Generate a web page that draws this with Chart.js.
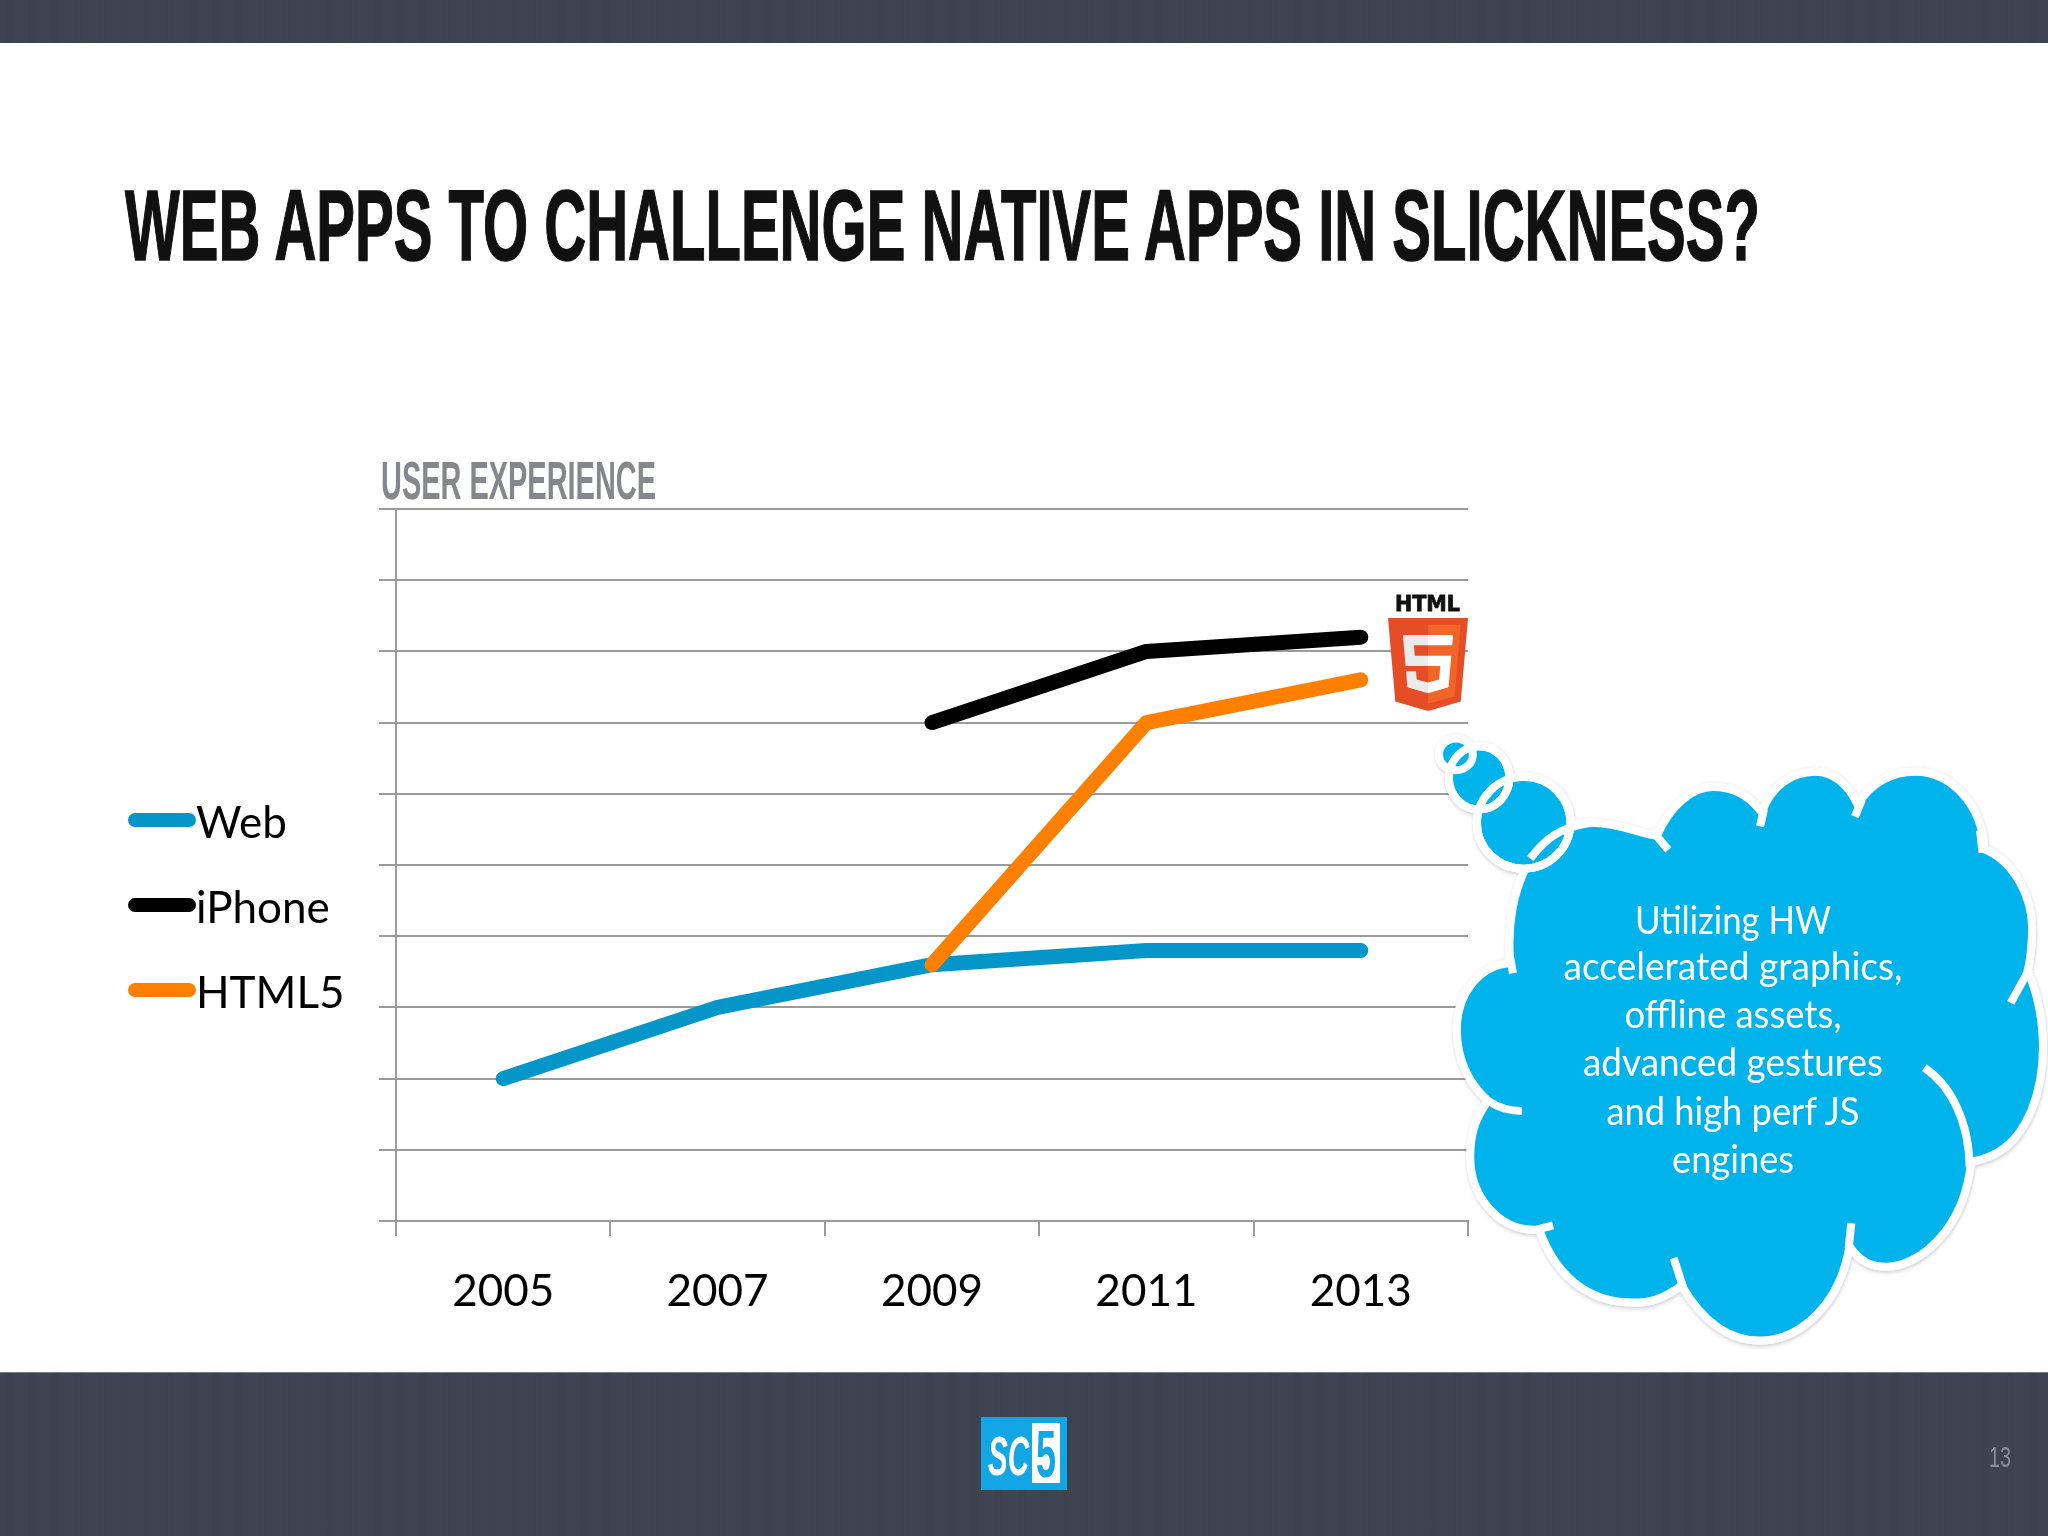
<!DOCTYPE html>
<html><head><meta charset="utf-8">
<script src="https://cdn.jsdelivr.net/npm/chart.js@4/dist/chart.umd.js"></script>
<style>
html,body{margin:0;padding:0;background:#fff;width:2048px;height:1536px;overflow:hidden}
#wrap{position:relative;width:2048px;height:1536px}
.bar{position:absolute;left:0;width:2048px;background-color:#3d4351;
background-image:repeating-linear-gradient(90deg,rgba(255,255,255,.007) 0 5px,rgba(0,0,0,.012) 5px 13px,rgba(255,255,255,.005) 13px 23px)}
canvas{position:absolute;left:0;top:0}
svg{position:absolute;left:0;top:0}
</style></head><body>
<div id="wrap">
<div class="bar" style="top:0;height:43px"></div>
<div class="bar" style="top:1372px;height:164px;border-top:1px solid #777c86;box-sizing:border-box"></div>
<canvas id="c" width="2048" height="1536"></canvas>
<svg width="2048" height="1536" viewBox="0 0 2048 1536" xmlns="http://www.w3.org/2000/svg">
  <text x="125" y="260" font-family="'Liberation Sans Narrow','Liberation Sans',sans-serif" font-weight="700" font-size="100" fill="#111" stroke="#111" stroke-width="1.5" textLength="1635" lengthAdjust="spacingAndGlyphs">WEB APPS TO CHALLENGE NATIVE APPS IN SLICKNESS?</text>
  <text x="381" y="499" font-family="'Liberation Sans Narrow','Liberation Sans',sans-serif" font-weight="700" font-size="53" fill="#85878c" textLength="275" lengthAdjust="spacingAndGlyphs">USER EXPERIENCE</text>

  <!-- HTML5 badge -->
  <text x="1395" y="611" font-family="'DejaVu Sans',sans-serif" font-weight="700" font-size="21" fill="#111" stroke="#111" stroke-width="0.8" textLength="65" lengthAdjust="spacingAndGlyphs">HTML</text>
  <g transform="translate(1382.7,618) scale(0.1774,0.1816)">
    <path fill="#e44d26" d="M71,460 L30,0 481,0 440,460 255,512z"/>
    <path fill="#f16529" d="M256,472 L405,431 440,37 256,37z"/>
    <path fill="#ebebeb" d="M256,208 L181,208 176,150 256,150 256,94 255,94 114,94 115,109 129,265 256,265z"/>
    <path fill="#ebebeb" d="M256,355 L255,355 192,338 188,293 158,293 132,293 139,382 255,414 256,414z"/>
    <path fill="#fff" d="M255,208 L255,265 325,265 318,338 255,355 255,414 371,382 372,372 385,223 387,208 371,208z"/>
    <path fill="#fff" d="M255,94 L255,150 392,150 393,138 396,109 397,94z"/>
  </g>

  <!-- thought cloud -->
  <defs><filter id="sh" x="-10%" y="-10%" width="120%" height="120%"><feDropShadow dx="1" dy="3" stdDeviation="4" flood-color="#000" flood-opacity=".22"/></filter></defs>
  <g transform="translate(1350,560) scale(0.4452,0.5102)" filter="url(#sh)">
    <g fill="#05b3ea" stroke="#fff" stroke-width="8">
      <path vector-effect="non-scaling-stroke" stroke-linejoin="round" d="M360 790 C345 640 420 515 540 515 C610 515 660 540 690 540 C720 480 770 445 815 445 C865 445 900 465 925 495 C945 445 990 415 1045 415 C1085 415 1120 440 1140 480 C1170 435 1220 415 1270 415 C1350 415 1420 480 1425 567 C1490 590 1535 660 1532 730 C1531 760 1528 785 1522 805 C1560 880 1572 990 1530 1080 C1495 1150 1450 1170 1395 1180 C1380 1310 1280 1385 1205 1385 C1170 1385 1145 1375 1122 1345 C1100 1460 1010 1530 920 1530 C850 1530 790 1490 745 1422 C700 1450 670 1458 620 1455 C530 1450 460 1400 425 1312 C340 1320 270 1250 270 1170 C270 1120 285 1090 310 1060 C260 1020 240 970 240 920 C240 850 290 795 360 790 Z"/>
      <ellipse vector-effect="non-scaling-stroke" cx="390" cy="515" rx="105" ry="90"/>
      <ellipse vector-effect="non-scaling-stroke" cx="290" cy="427" rx="68" ry="62"/>
      <ellipse vector-effect="non-scaling-stroke" cx="238" cy="381" rx="38" ry="31"/>
    </g>
    <g fill="none" stroke="#fff" stroke-width="8">
      <ellipse vector-effect="non-scaling-stroke" cx="390" cy="515" rx="105" ry="90"/>
      <ellipse vector-effect="non-scaling-stroke" cx="290" cy="427" rx="68" ry="62"/>
      <path vector-effect="non-scaling-stroke" d="M405 585 C440 545 470 525 540 515"/>
      <path vector-effect="non-scaling-stroke" d="M366 810 L360 780"/>
      <path vector-effect="non-scaling-stroke" d="M715 568 L680 532"/>
      <path vector-effect="non-scaling-stroke" d="M921 522 L930 488"/>
      <path vector-effect="non-scaling-stroke" d="M1134 503 L1150 470"/>
      <path vector-effect="non-scaling-stroke" d="M1421 574 L1415 530"/>
      <path vector-effect="non-scaling-stroke" d="M1484 868 L1526 802"/>
      <path vector-effect="non-scaling-stroke" d="M1290 995 C1350 1030 1390 1100 1392 1190"/>
      <path vector-effect="non-scaling-stroke" d="M1126 1300 L1120 1350"/>
      <path vector-effect="non-scaling-stroke" d="M727 1368 L748 1425"/>
      <path vector-effect="non-scaling-stroke" d="M422 1312 L456 1304"/>
      <path vector-effect="non-scaling-stroke" d="M310 1060 C335 1075 360 1080 386 1080"/>
    </g>
  </g>
  <g font-family="Lato,sans-serif" font-size="38" fill="#fff" text-anchor="middle">
    <text x="1733" y="934" textLength="196" lengthAdjust="spacingAndGlyphs">Utilizing HW</text>
    <text x="1733" y="980" textLength="339" lengthAdjust="spacingAndGlyphs">accelerated graphics,</text>
    <text x="1733" y="1028" textLength="217" lengthAdjust="spacingAndGlyphs">offline assets,</text>
    <text x="1733" y="1076" textLength="300" lengthAdjust="spacingAndGlyphs">advanced gestures</text>
    <text x="1733" y="1125" textLength="253" lengthAdjust="spacingAndGlyphs">and high perf JS</text>
    <text x="1733" y="1173" textLength="122" lengthAdjust="spacingAndGlyphs">engines</text>
  </g>

  <!-- footer logo and page number -->
  <rect x="981" y="1417" width="86" height="73" fill="#12a6e5"/>
  <rect x="1032" y="1423" width="28" height="60" fill="#fff"/>
  <text x="988" y="1475" font-family="'Liberation Sans Narrow','Liberation Sans',sans-serif" font-weight="700" font-style="italic" font-size="56" fill="#fff" textLength="41" lengthAdjust="spacingAndGlyphs">SC</text>
  <text x="1036" y="1477" font-family="'Liberation Sans Narrow','Liberation Sans',sans-serif" font-weight="700" font-size="66" fill="#12a6e5" textLength="20" lengthAdjust="spacingAndGlyphs">5</text>
  <text x="1989" y="1467" font-family="'Liberation Sans Narrow','Liberation Sans',sans-serif" font-size="29" fill="#8a8e98" textLength="22" lengthAdjust="spacingAndGlyphs">13</text>
</svg>
</div>
<script>
const years = ['2005','2007','2009','2011','2013'];
const webValues = [2, 3, 3.6, 3.8, 3.8];
const iphoneValues = [null, null, 7, 8, 8.2];
const html5Values = [null, null, 3.6, 7, 7.6];
const seriesNames = ['Web','iPhone','HTML5'];
const seriesColors = ['#0596c9','#000000','#ff7f00'];
const drawOrder = [1, 2, 0];

const gridColor = '#9b9b9d';
const target = {left:396, right:1468, top:509, bottom:1221};

function legendSwatch(color){
  const s = document.createElement('canvas');
  s.width = 92; s.height = 30;
  const g = s.getContext('2d');
  g.strokeStyle = color; g.lineWidth = 14; g.lineCap = 'round';
  g.beginPath(); g.moveTo(30, 11); g.lineTo(84, 11); g.stroke();
  return s;
}

const placeLegend = {
  id:'placeLegend',
  afterLayout(chart){
    const l = chart.legend;
    const w = l.right - l.left, h = l.bottom - l.top;
    l.left = 128 - 41; l.right = l.left + w;
    l.top = 761; l.bottom = l.top + h;
  }
};

const chart = new Chart(document.getElementById('c'), {
  type:'line',
  data:{
    labels: years,
    datasets: [webValues, iphoneValues, html5Values].map((d,i)=>({
      label: seriesNames[i], data: d,
      borderColor: seriesColors[i], backgroundColor: seriesColors[i],
      borderWidth: 15, borderCapStyle:'round', borderJoinStyle:'round',
      pointRadius: 0, tension: 0, fill:false, order: drawOrder[i], spanGaps:false
    }))
  },
  plugins:[placeLegend],
  options:{
    responsive:false, animation:false, devicePixelRatio:1,
    layout:{padding:{left:100,right:580,top:500,bottom:240}},
    plugins:{
      tooltip:{enabled:false},
      title:{display:false},
      legend:{
        display:true, position:'left', align:'start', fullSize:false,
        labels:{
          usePointStyle:true, pointStyleWidth:46, padding:41, color:'#000',
          font:{family:'Lato', size:44},
          generateLabels(c){
            return c.data.datasets.map((d,i)=>({
              text:d.label, datasetIndex:i, fontColor:'#000',
              fillStyle:d.borderColor, strokeStyle:d.borderColor, lineWidth:0,
              pointStyle:legendSwatch(d.borderColor), hidden:false
            }));
          }
        }
      }
    },
    scales:{
      x:{
        type:'category', offset:true,
        grid:{display:true, offset:true, drawOnChartArea:false, drawTicks:true, tickLength:15, color:gridColor, lineWidth:2},
        border:{display:true, color:gridColor, width:2},
        ticks:{color:'#000', font:{family:'Lato', size:44}, padding:29, maxRotation:0, autoSkip:false}
      },
      y:{
        min:0, max:10,
        grid:{display:true, drawTicks:true, tickLength:17, color:gridColor, lineWidth:2},
        border:{display:true, color:gridColor, width:2},
        ticks:{display:false, stepSize:1}
      }
    }
  }
});

for(let i=0;i<3;i++){
  const a = chart.chartArea, p = chart.options.layout.padding;
  p.left += target.left - a.left;
  p.right += a.right - target.right;
  p.top += target.top - a.top;
  p.bottom += a.bottom - target.bottom;
  chart.update('none');
}
</script>
</body></html>
